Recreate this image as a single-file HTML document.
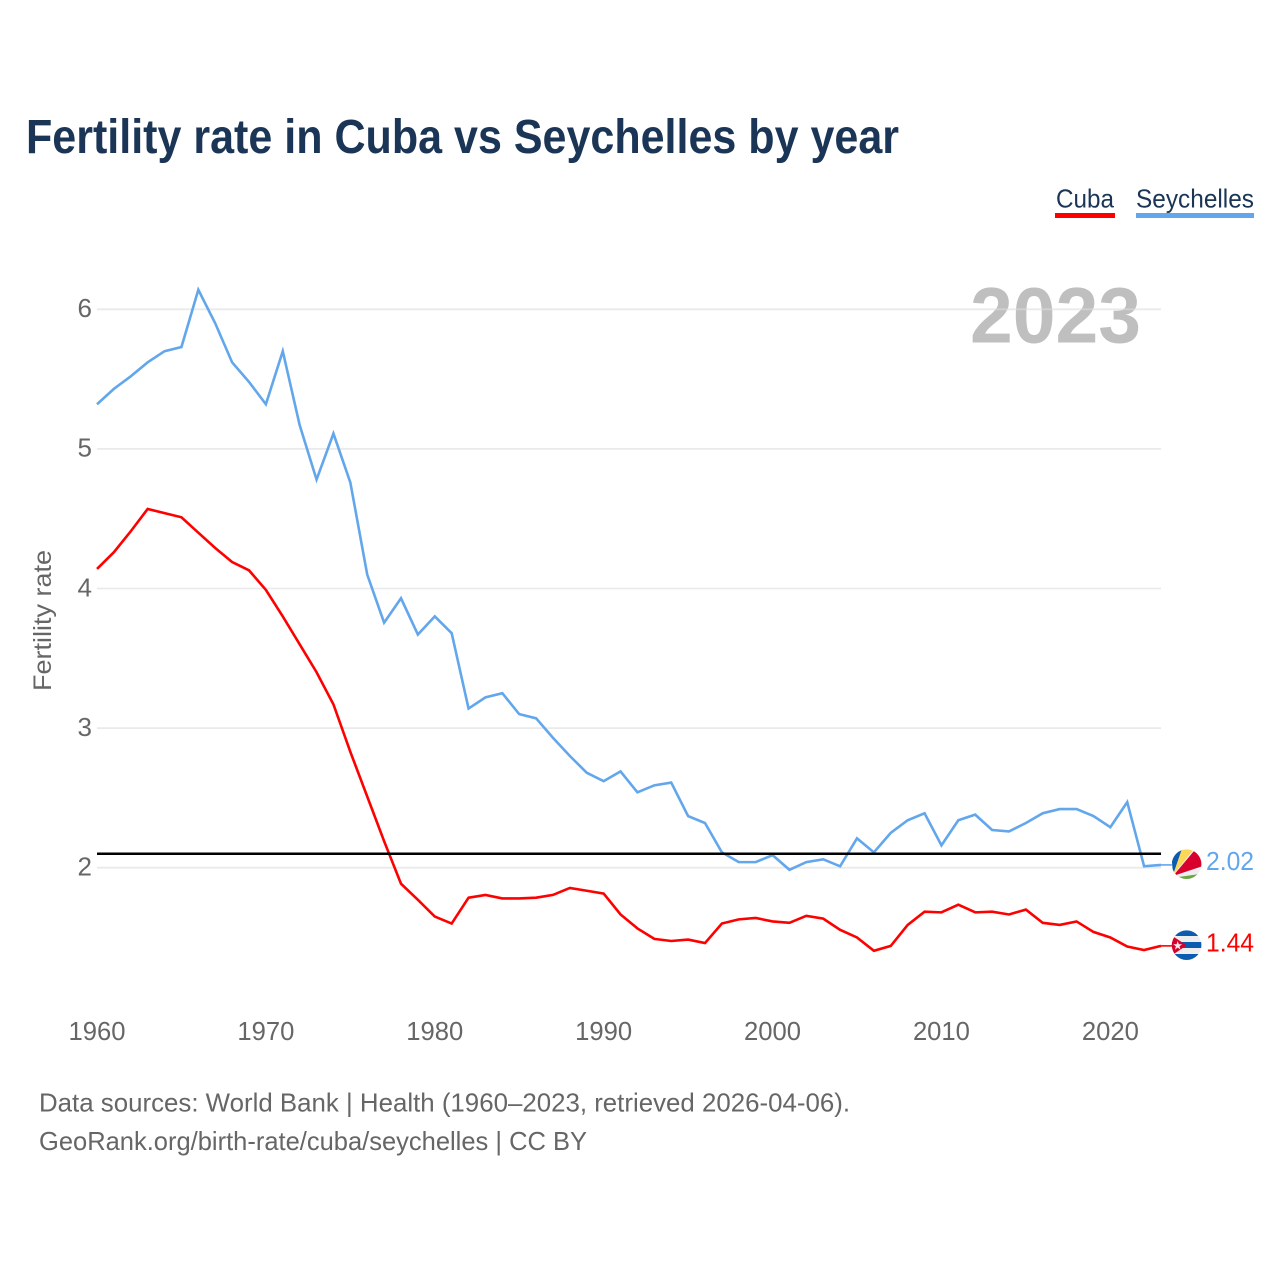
<!DOCTYPE html>
<html lang="en">
<head>
<meta charset="utf-8">
<title>Fertility rate in Cuba vs Seychelles by year</title>
<style>
html,body{margin:0;padding:0;background:#fff;}
svg{display:block;font-family:"Liberation Sans",sans-serif;}
</style>
</head>
<body>
<svg id="chart" width="1280" height="1280" viewBox="0 0 1280 1280" xmlns="http://www.w3.org/2000/svg">
  <defs>
    <clipPath id="flag-clip-sc"><circle cx="1186.6" cy="864.2" r="14.8"/></clipPath>
    <clipPath id="flag-clip-cu"><circle cx="1186.6" cy="945.2" r="14.8"/></clipPath>
  </defs>
  <rect width="1280" height="1280" fill="#fff"/>
  <text x="26" y="153" font-size="48" font-weight="700" fill="#1a3556" textLength="873" lengthAdjust="spacingAndGlyphs">Fertility rate in Cuba vs Seychelles by year</text>

  <text x="1056" y="207.5" font-size="26" fill="#1a3556" textLength="58" lengthAdjust="spacingAndGlyphs">Cuba</text>
  <rect x="1055" y="213" width="60" height="5" fill="#ff0000"/>
  <text x="1136" y="207.5" font-size="26" fill="#1a3556" textLength="118" lengthAdjust="spacingAndGlyphs">Seychelles</text>
  <rect x="1136" y="213" width="118" height="5" fill="#62a6ec"/>

  <text x="970" y="342.5" font-size="79" font-weight="700" fill="#bfbfbf" textLength="171" lengthAdjust="spacingAndGlyphs">2023</text>

  <g id="grid"></g>
  <g id="y-ticks"></g>
  <g id="x-ticks"></g>
  <text transform="translate(51 691) rotate(-90)" font-size="25" fill="#666" textLength="141" lengthAdjust="spacingAndGlyphs">Fertility rate</text>

  <g id="series"></g>
  <line id="ref-line" stroke="#000" stroke-width="2.4"/>

  <g clip-path="url(#flag-clip-sc)">
    <rect x="1171" y="849" width="32" height="32" fill="#eeeeee"/>
    <polygon points="1173,875 1171,849 1182,849" fill="#0b5cb0"/>
    <polygon points="1173,875 1182,849 1194,849" fill="#fcd856"/>
    <polygon points="1173,876 1194,851 1203,855 1203,866" fill="#d8002c"/>
    <polygon points="1175,877.5 1203,873.5 1203,881 1175,881" fill="#6da544"/>
  </g>
  <g clip-path="url(#flag-clip-cu)">
    <rect x="1171" y="930" width="32" height="31" fill="#eeeeee"/>
    <rect x="1171" y="930" width="32" height="6" fill="#0b5cb0"/>
    <rect x="1171" y="942" width="32" height="6" fill="#0b5cb0"/>
    <rect x="1171" y="954" width="32" height="7" fill="#0b5cb0"/>
    <polygon points="1171,935 1186.7,945.4 1171,956" fill="#d8002c"/>
    <polygon points="1177.7,941 1178.8,944.2 1182.2,944.2 1179.5,946.3 1180.5,949.6 1177.7,947.6 1174.9,949.6 1175.9,946.3 1173.2,944.2 1176.6,944.2" fill="#eeeeee"/>
  </g>

  <text x="1206" y="870" font-size="26" fill="#62a6ec" textLength="48" lengthAdjust="spacingAndGlyphs">2.02</text>
  <text x="1206" y="951.5" font-size="26" fill="#ff0000" textLength="48" lengthAdjust="spacingAndGlyphs">1.44</text>

  <text x="39" y="1111.5" font-size="26" fill="#666" textLength="811" lengthAdjust="spacingAndGlyphs">Data sources: World Bank | Health (1960–2023, retrieved 2026-04-06).</text>
  <text x="39" y="1150" font-size="26" fill="#666" textLength="548" lengthAdjust="spacingAndGlyphs">GeoRank.org/birth-rate/cuba/seychelles | CC BY</text>
</svg>
<script>
const startYear = 1960;
const xTickYears = [1960, 1970, 1980, 1990, 2000, 2010, 2020];
const yTickValues = [2, 3, 4, 5, 6];
const referenceValue = 2.1;
const cubaValues = [
  4.14,4.26,4.41,4.57,4.54,4.51,4.40,4.29,4.19,4.13,
  3.99,3.80,3.60,3.40,3.17,2.83,2.51,2.19,1.885,1.77,
  1.65,1.60,1.785,1.805,1.78,1.78,1.785,1.805,1.855,1.835,
  1.815,1.665,1.565,1.49,1.475,1.485,1.46,1.60,1.63,1.64,
  1.615,1.605,1.655,1.635,1.555,1.50,1.405,1.44,1.59,1.685,
  1.68,1.735,1.68,1.685,1.665,1.70,1.605,1.59,1.615,1.54,
  1.50,1.435,1.41,1.44
];
const seychellesValues = [
  5.32,5.43,5.52,5.62,5.70,5.73,6.14,5.90,5.62,5.48,
  5.32,5.70,5.17,4.78,5.11,4.76,4.10,3.755,3.93,3.67,
  3.80,3.68,3.14,3.22,3.25,3.10,3.07,2.93,2.80,2.68,
  2.62,2.69,2.54,2.59,2.61,2.37,2.32,2.11,2.04,2.04,
  2.09,1.985,2.04,2.06,2.01,2.21,2.11,2.25,2.34,2.39,
  2.16,2.34,2.38,2.27,2.26,2.32,2.39,2.42,2.42,2.37,
  2.29,2.47,2.01,2.02
];

const NS = 'http://www.w3.org/2000/svg';
const plotLeft = 97, plotRight = 1161;
function xScale(year) { return plotLeft + (year - startYear) * (plotRight - plotLeft) / 63; }
function yScale(value) { return 867.7 - (value - 2) * 139.6; }
function make(tag, parent, attrs) {
  const el = document.createElementNS(NS, tag);
  for (const k in attrs) el.setAttribute(k, attrs[k]);
  parent.appendChild(el);
  return el;
}
const grid = document.getElementById('grid');
const yTicks = document.getElementById('y-ticks');
const xTicks = document.getElementById('x-ticks');
const series = document.getElementById('series');

yTickValues.forEach(function (v) {
  const line = make('line', grid, {x1: plotLeft, x2: plotRight, y1: yScale(v), y2: yScale(v), stroke: '#dcdcdc', 'stroke-opacity': 0.6, 'stroke-width': 1.8});
  
  
  const t = make('text', yTicks, {x: 92, y: yScale(v) + 7.8, 'text-anchor': 'end', 'font-size': 26, fill: '#666'});
  
  
  t.textContent = String(v);
});

xTickYears.forEach(function (y) {
  const t = make('text', xTicks, {x: xScale(y) - 28.5, y: 1040, 'font-size': 26, fill: '#666', textLength: 57, lengthAdjust: 'spacingAndGlyphs'});
  
  
  t.textContent = String(y);
});

function drawSeries(values, color, key, flagX) {
  const pts = values.map(function (v, i) { return xScale(startYear + i).toFixed(2) + ',' + yScale(v).toFixed(2); }).join(' ');
  const path = make('polyline', series, {points: pts, fill: 'none', stroke: color, 'stroke-width': 2.6, 'stroke-linejoin': 'miter'});
  
  
  const last = values[values.length - 1];
  const conn = make('line', series, {x1: plotRight, x2: flagX, y1: yScale(last), y2: yScale(last), stroke: color, 'stroke-width': 1.6});
  
  
}
drawSeries(seychellesValues, '#62a6ec', 'seychelles', 1172);
drawSeries(cubaValues, '#ff0000', 'cuba', 1172);

const ref = document.getElementById('ref-line');
ref.setAttribute('x1', plotLeft);
ref.setAttribute('x2', plotRight);
ref.setAttribute('y1', yScale(referenceValue));
ref.setAttribute('y2', yScale(referenceValue));
</script>
</body>
</html>
